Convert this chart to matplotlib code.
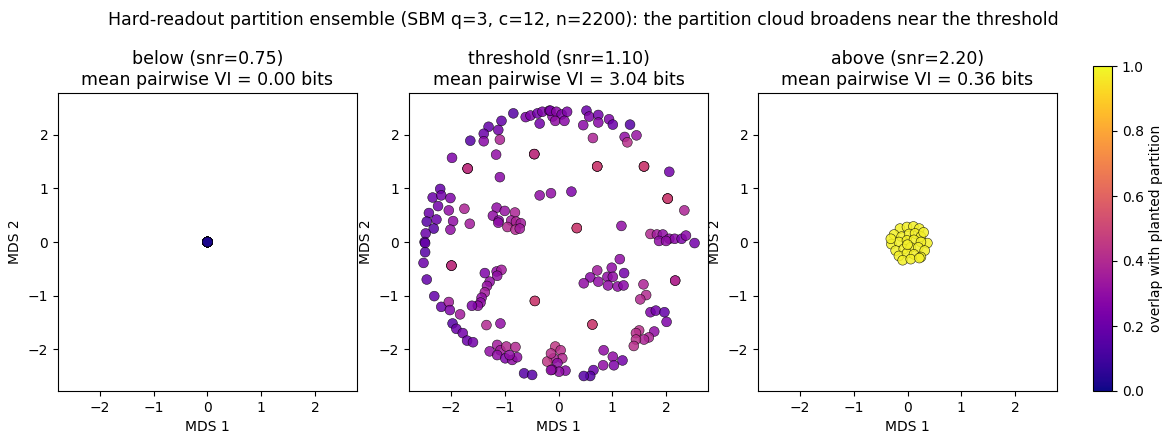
import numpy as np
import matplotlib
matplotlib.use("Agg")
import matplotlib.pyplot as plt
from matplotlib.colors import Normalize

# ---------------- data ----------------
titles = ["below (snr=0.75)\nmean pairwise VI = 0.00 bits",
          "threshold (snr=1.10)\nmean pairwise VI = 3.04 bits",
          "above (snr=2.20)\nmean pairwise VI = 0.36 bits"]
suptitle = ("Hard-readout partition ensemble (SBM q=3, c=12, n=2200): "
            "the partition cloud broadens near the threshold")

# below: all partitions identical
below_x = [0.0] * 40
below_y = [0.0] * 40
below_c = [0.02] * 40

# threshold: broad cloud (x, y, overlap, multiplicity)
thr_x = [-0.84, -1.06, -1.30, -1.12, -1.39, -1.64, -1.39, -1.09, -0.61, -0.52,
         -0.39, -0.30, -0.17, -0.11, -0.35, -1.98, -1.69, -1.16, -0.45, -1.09,
         -0.35, -0.14, -2.20, -2.34, -2.18, -2.01, -2.24, -2.41, -2.04, -1.75,
         -2.27, -2.45, -1.96, -2.32, -2.47, -2.01, -1.65, -2.49, -1.15, -1.00,
         -0.81, -1.22, -1.11, -1.12, -0.88, -0.79, -0.70, -0.95, -0.80, -0.72,
         -0.15, -0.04, 0.06, 0.16, -0.06, 0.11, 0.52, 0.57, 0.74, 0.74,
         0.46, 0.94, 1.01, 1.33, 0.64, 1.23, 1.28, 1.45, 0.72, 1.59,
         2.06, 0.24, 2.03, 2.34, 0.34, 1.17, 1.71, 1.83, 1.94, 2.06,
         2.16, 2.29, 2.37, 2.53, 1.87, 2.00, 1.14, 0.72, 0.99, 1.22,
         0.59, 0.47, 0.74, 0.91, 1.01, 0.92, 1.10, 1.21, 1.58, 2.17,
         1.63, 1.52, 1.71, 1.81, 1.97, 2.01, 0.63, 1.50, 1.44, 1.78,
         1.68, 1.59, 1.44, 1.40, 0.84, 1.01, 1.19, 1.03, 0.83, 0.65,
         0.59, 0.47, -0.06, 0.04, 0.07, -0.09, -0.02, 0.13, 0.01, -0.12,
         -2.48, -2.48, -2.51, -2.45, -1.99, -1.37, -1.15, -1.06, -1.14, -1.28,
         -1.33, -1.37, -1.43, -1.45, -1.50, -1.61, -2.31, -2.18, -2.04, -2.02,
         -1.83, -0.44, -1.97, -1.90, -1.78, -1.70, -1.59, -1.34, -1.08, -1.28,
         -1.14, -1.08, -0.97, -0.80, -1.14, -0.99, -0.86, -0.77, -0.91, -0.64,
         -0.49, -0.21, -0.14, -0.14]
thr_y = [2.40, 2.26, 2.15, 2.09, 2.02, 1.89, 1.88, 1.91, 2.33, 2.36,
         2.40, 2.43, 2.45, 2.34, 2.21, 1.57, 1.37, 1.63, 1.64, 1.21,
         0.87, 0.91, 0.99, 0.83, 0.87, 0.82, 0.67, 0.54, 0.59, 0.62,
         0.42, 0.38, 0.39, 0.25, 0.16, 0.23, 0.34, 0.00, 0.64, 0.58,
         0.55, 0.49, 0.40, 0.36, 0.40, 0.38, 0.35, 0.28, 0.23, 0.25,
         2.45, 2.43, 2.38, 2.43, 2.26, 2.26, 2.45, 2.34, 2.37, 2.23,
         2.18, 2.29, 2.19, 2.19, 1.94, 1.96, 1.86, 1.99, 1.41, 1.41,
         1.31, 0.94, 0.81, 0.59, 0.26, 0.30, 0.15, 0.14, 0.14, 0.06,
         0.06, 0.06, 0.12, -0.02, 0.02, 0.02, -0.32, -0.53, -0.48, -0.58,
         -0.66, -0.77, -0.74, -0.65, -0.65, -0.81, -0.83, -0.81, -0.79, -0.72,
         -0.99, -1.07, -1.31, -1.28, -1.31, -1.49, -1.54, -1.65, -1.70, -1.67,
         -1.78, -1.82, -1.82, -1.94, -2.02, -2.14, -2.21, -2.30, -2.30, -2.39,
         -2.50, -2.50, -1.95, -2.02, -2.17, -2.17, -2.26, -2.40, -2.42, -2.38,
         -0.02, -0.19, -0.39, -0.70, -0.44, -0.58, -0.55, -0.52, -0.63, -0.74,
         -0.82, -0.94, -1.04, -1.13, -1.19, -1.19, -1.01, -1.21, -1.12, -1.27,
         -1.35, -1.10, -1.52, -1.62, -1.70, -1.84, -1.87, -1.55, -1.52, -2.04,
         -1.92, -2.02, -1.95, -1.96, -2.11, -2.17, -2.20, -2.15, -2.11, -2.45,
         -2.48, -2.23, -2.08, -2.39]
thr_c = [0.15, 0.18, 0.18, 0.22, 0.20, 0.15, 0.28, 0.38, 0.25, 0.25,
         0.22, 0.25, 0.25, 0.28, 0.22, 0.25, 0.45, 0.30, 0.45, 0.28,
         0.30, 0.30, 0.18, 0.20, 0.22, 0.25, 0.22, 0.20, 0.30, 0.38,
         0.20, 0.15, 0.30, 0.15, 0.20, 0.30, 0.35, 0.18, 0.30, 0.32,
         0.38, 0.30, 0.28, 0.30, 0.35, 0.38, 0.35, 0.40, 0.40, 0.35,
         0.25, 0.28, 0.25, 0.25, 0.30, 0.28, 0.20, 0.25, 0.22, 0.28,
         0.28, 0.25, 0.20, 0.15, 0.38, 0.30, 0.42, 0.32, 0.50, 0.50,
         0.22, 0.25, 0.50, 0.38, 0.50, 0.30, 0.40, 0.35, 0.30, 0.30,
         0.28, 0.25, 0.28, 0.22, 0.30, 0.30, 0.30, 0.35, 0.30, 0.22,
         0.28, 0.30, 0.30, 0.30, 0.30, 0.30, 0.30, 0.28, 0.38, 0.40,
         0.40, 0.40, 0.25, 0.22, 0.18, 0.25, 0.50, 0.42, 0.42, 0.30,
         0.38, 0.38, 0.42, 0.42, 0.30, 0.30, 0.22, 0.25, 0.30, 0.20,
         0.15, 0.15, 0.45, 0.42, 0.40, 0.38, 0.30, 0.28, 0.30, 0.30,
         0.18, 0.15, 0.20, 0.18, 0.45, 0.25, 0.30, 0.35, 0.30, 0.30,
         0.32, 0.35, 0.30, 0.30, 0.30, 0.25, 0.18, 0.20, 0.35, 0.25,
         0.35, 0.50, 0.15, 0.20, 0.22, 0.20, 0.22, 0.40, 0.30, 0.30,
         0.35, 0.35, 0.40, 0.40, 0.30, 0.25, 0.30, 0.30, 0.30, 0.15,
         0.15, 0.45, 0.42, 0.30]
# number of identical partitions stacked at each threshold point
thr_mult = [1] * len(thr_x)
for i in (16, 18, 68, 69, 72, 134):
    thr_mult[i] = 3
for i in (74, 99, 106, 151):
    thr_mult[i] = 2

# above: tight cluster near the planted partition
above_x = [-0.14, -0.01, 0.11, 0.22, -0.25, -0.11, 0.03, 0.14, 0.25, 0.37,
           -0.30, -0.16, -0.01, 0.12, 0.25, -0.22, -0.07, 0.06, 0.20, 0.32,
           -0.16, -0.01, 0.12, 0.25, -0.09, 0.06, 0.22, -0.31, 0.30, 0.00]
above_y = [0.25, 0.28, 0.29, 0.25, 0.14, 0.10, 0.15, 0.16, 0.10, -0.02,
           -0.04, 0.00, 0.03, 0.04, 0.00, -0.16, -0.13, -0.10, -0.10, -0.16,
           -0.26, -0.21, -0.23, -0.28, -0.34, -0.32, -0.30, 0.06, 0.18, -0.05]
above_c = [0.98] * len(above_x)

# ---------------- figure ----------------
fig = plt.figure(figsize=(11.66, 4.38), dpi=100)
W, H = 1166, 438
ax_lefts = [58, 409, 758]
axes = [fig.add_axes([l / W, (H - 391) / H, 299 / W, 298 / H]) for l in ax_lefts]
cax = fig.add_axes([1093 / W, (H - 391) / H, 19 / W, (391 - 66) / H])

cmap = plt.get_cmap("plasma")
norm = Normalize(0, 1)
lim = 2.78

def expand(xs, ys, cs, mult):
    X, Y, C = [], [], []
    for x, y, c, m in zip(xs, ys, cs, mult):
        X += [x] * m
        Y += [y] * m
        C += [c] * m
    return X, Y, C

datasets = [
    (below_x, below_y, below_c),
    expand(thr_x, thr_y, thr_c, thr_mult),
    (above_x, above_y, above_c),
]

for ax, (xs, ys, cs), t in zip(axes, datasets, titles):
    ax.scatter(xs, ys, c=cs, cmap=cmap, norm=norm, s=50, alpha=0.85,
               edgecolors="k", linewidths=0.4)
    ax.set_xlim(-lim, lim)
    ax.set_ylim(-lim, lim)
    ax.set_xticks([-2, -1, 0, 1, 2])
    ax.set_yticks([-2, -1, 0, 1, 2])
    ax.set_xlabel("MDS 1")
    ax.set_ylabel("MDS 2")
    ax.set_title(t, fontsize=12.5)

sm = plt.cm.ScalarMappable(norm=norm, cmap=cmap)
cb = fig.colorbar(sm, cax=cax)
cb.set_label("overlap with planted partition")
cb.set_ticks([0.0, 0.2, 0.4, 0.6, 0.8, 1.0])

fig.suptitle(suptitle, fontsize=12.5, y=0.975)
fig.savefig("out.png", dpi=100)
